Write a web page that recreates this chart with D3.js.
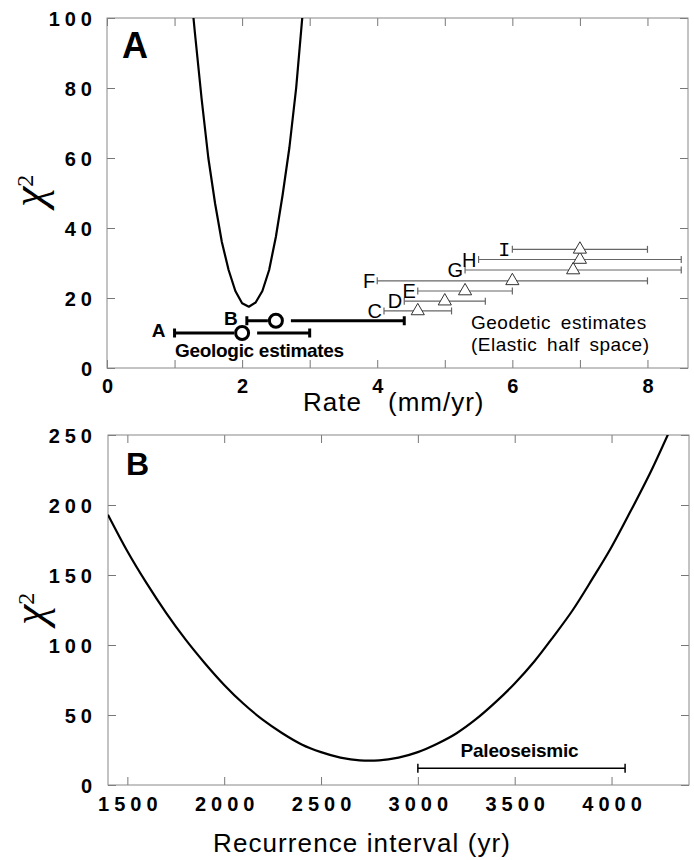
<!DOCTYPE html>
<html>
<head>
<meta charset="UTF-8" />
<script src="https://d3js.org/d3.v7.min.js"></script>
<style>
  body { margin: 0; background: #fff; }
  svg { font-family: "Liberation Sans", Arial, sans-serif; }
  .tick text { font-weight: bold; font-size: 20px; letter-spacing: 5px; fill: #000; }
  .tick line { stroke: #777; }
  .frame { fill: none; stroke: #888; stroke-width: 1; }
</style>
</head>
<body>
<script>
// ---- panel A : chi2 against slip rate ----
const rateGrid = [1.28, 1.3, 1.4, 1.5, 1.6, 1.7, 1.8, 1.9, 2.0, 2.1, 2.2, 2.3, 2.4, 2.5, 2.6, 2.7, 2.8, 2.89];
const rateChi  = [100, 96, 77, 60, 47, 36, 28, 22, 18.5, 17.5, 18.7, 22, 28, 37.5, 49.5, 63, 80, 100];

// geologic estimates (bold, circles)
const geolLabels = ["A", "B"];
const geolRate   = [2.0, 2.5];
const geolLo     = [1.0, 2.07];
const geolHi     = [3.0, 4.4];
const geolChi    = [10, 13.5];

// geodetic estimates (thin, triangles)
const geodLabels = ["C", "D", "E", "F", "G", "H", "I"];
const geodRate   = [4.6, 5.0, 5.3, 6.0, 6.9, 7.0, 7.0];
const geodLo     = [4.1, 4.4, 4.6, 4.0, 5.3, 5.5, 6.0];
const geodHi     = [5.1, 5.6, 6.0, 8.0, 8.5, 8.5, 8.0];
const geodChi    = [16.3, 19.1, 22.0, 24.9, 28.0, 31.0, 33.9];

const rateTicks = [0, 1, 2, 3, 4, 5, 6, 7, 8];
const rateTickLabels = ["0", "", "2", "", "4", "", "6", "", "8"];
const chiTicksA = [0, 20, 40, 60, 80, 100];

// ---- panel B : chi2 against recurrence interval ----
const recYears = [1400, 1500, 1600, 1700, 1800, 1900, 2000, 2100, 2200, 2300, 2400, 2500, 2600, 2700, 2750,
                  2800, 2900, 3000, 3100, 3200, 3300, 3400, 3500, 3600, 3700, 3800, 3900, 4000, 4100, 4200, 4300];
const recChi   = [193, 167, 144, 123, 104, 87, 71.5, 58, 46.5, 37, 29, 23.5, 19.6, 17.6, 17.4,
                  17.6, 19.6, 23.5, 29.5, 37, 47, 59, 72.5, 88, 106, 125, 147, 170, 196, 223, 253];
const paleoLo = 3000, paleoHi = 4070, paleoChi = 12;

const yearTicks = [1500, 2000, 2500, 3000, 3500, 4000];
const chiTicksB = [0, 50, 100, 150, 200, 250];

const W = 694, H = 860;
const svg = d3.select("body").append("svg").attr("width", W).attr("height", H);

const A = { left: 107, right: 688, top: 18, bottom: 368 };
const B = { left: 108, right: 689, top: 435, bottom: 785 };

const xA = d3.scaleLinear().domain([0, 8.6]).range([A.left, A.right]);
const yA = d3.scaleLinear().domain([0, 100]).range([A.bottom, A.top]);
const xB = d3.scaleLinear().domain([1400, 4400]).range([B.left, B.right]);
const yB = d3.scaleLinear().domain([0, 250]).range([B.bottom, B.top]);

function noDomain(g) { g.select(".domain").remove(); }

function drawAxes(P, x, y, xt, xfmt, yt, labelY, labelX) {
  svg.append("g").attr("transform", `translate(0,${P.bottom})`)
    .call(d3.axisBottom(x).tickValues(xt).tickFormat(xfmt).tickSize(-8).tickSizeOuter(0))
    .call(noDomain)
    .call(g => g.selectAll("text").attr("y", labelY).attr("dy", 0).attr("dx", 2.5));
  svg.append("g").attr("transform", `translate(0,${P.top})`)
    .call(d3.axisTop(x).tickValues(xt).tickFormat("").tickSize(-8).tickSizeOuter(0))
    .call(noDomain);
  svg.append("g").attr("transform", `translate(${P.left},0)`)
    .call(d3.axisLeft(y).tickValues(yt).tickSize(-8).tickSizeOuter(0))
    .call(noDomain)
    .call(g => g.selectAll("text").attr("x", labelX).attr("dy", "0.35em"));
  svg.append("g").attr("transform", `translate(${P.right},0)`)
    .call(d3.axisRight(y).tickValues(yt).tickFormat("").tickSize(-8).tickSizeOuter(0))
    .call(noDomain);
  svg.append("rect").attr("class", "frame")
    .attr("x", P.left).attr("y", P.top)
    .attr("width", P.right - P.left).attr("height", P.bottom - P.top);
}

drawAxes(A, xA, yA, rateTicks, (d, i) => rateTickLabels[i], chiTicksA, 25, -10);
drawAxes(B, xB, yB, yearTicks, d3.format("d"), chiTicksB, 26, -11);

function chiLabel(x, y) {
  const t = svg.append("text")
    .attr("transform", `translate(${x},${y}) rotate(-90)`)
    .style("font-family", "'Liberation Serif', serif")
    .style("font-size", "46px");
  t.append("tspan").style("font-style", "italic").text("χ");
  t.append("tspan").attr("dy", -11).style("font-size", "24px").text("2");
}
chiLabel(44, 207);
chiLabel(45, 625);

function panelLetter(txt, x, y, size) {
  svg.append("text").attr("x", x).attr("y", y)
    .style("font-weight", "bold").style("font-size", size + "px").text(txt);
}
panelLetter("A", 122, 58, 36);
panelLetter("B", 126, 475, 32);

// clip paths
const defs = svg.append("defs");
defs.append("clipPath").attr("id", "clipA").append("rect")
  .attr("x", A.left).attr("y", A.top).attr("width", A.right - A.left).attr("height", A.bottom - A.top);
defs.append("clipPath").attr("id", "clipB").append("rect")
  .attr("x", B.left).attr("y", B.top).attr("width", B.right - B.left).attr("height", B.bottom - B.top);

// ---- panel A marks ----
const curveA = rateGrid.map((r, i) => [r, rateChi[i]]);
svg.append("path").datum(curveA)
  .attr("clip-path", "url(#clipA)")
  .attr("fill", "none").attr("stroke", "#000").attr("stroke-width", 2.2)
  .attr("stroke-linejoin", "round")
  .attr("d", d3.line().x(d => xA(d[0])).y(d => yA(d[1])));

// geodetic bars
const geod = geodLabels.map((l, i) => ({ label: l, rate: geodRate[i], lo: geodLo[i], hi: geodHi[i], chi: geodChi[i] }));
const gd = svg.append("g").selectAll("g").data(geod).join("g");
gd.append("line")
  .attr("x1", d => xA(d.lo)).attr("x2", d => xA(d.hi))
  .attr("y1", d => yA(d.chi)).attr("y2", d => yA(d.chi))
  .attr("stroke", "#666").attr("stroke-width", 1.2);
[d => xA(d.lo), d => xA(d.hi)].forEach(fx => {
  gd.append("line")
    .attr("x1", fx).attr("x2", fx)
    .attr("y1", d => yA(d.chi) - 3.5).attr("y2", d => yA(d.chi) + 3.5)
    .attr("stroke", "#666").attr("stroke-width", 1.2);
});
gd.append("path")
  .attr("d", d3.symbol(d3.symbolTriangle, 75))
  .attr("transform", d => `translate(${xA(d.rate)},${yA(d.chi)})`)
  .attr("fill", "#fff").attr("stroke", "#333").attr("stroke-width", 1);
gd.append("text")
  .attr("x", d => xA(d.lo) - 2).attr("y", d => yA(d.chi) + 7)
  .attr("text-anchor", "end")
  .style("font-size", "20px")
  .style("font-family", d => d.label === "I" ? "'Liberation Mono', monospace" : null)
  .text(d => d.label);

// geologic bars
const geol = geolLabels.map((l, i) => ({ label: l, rate: geolRate[i], lo: geolLo[i], hi: geolHi[i], chi: geolChi[i] }));
const gl = svg.append("g").selectAll("g").data(geol).join("g");
gl.append("line")
  .attr("x1", d => xA(d.lo)).attr("x2", d => xA(d.rate) - 8)
  .attr("y1", d => yA(d.chi)).attr("y2", d => yA(d.chi))
  .attr("stroke", "#000").attr("stroke-width", 3);
gl.append("line")
  .attr("x1", d => xA(d.rate) + 15).attr("x2", d => xA(d.hi))
  .attr("y1", d => yA(d.chi)).attr("y2", d => yA(d.chi))
  .attr("stroke", "#000").attr("stroke-width", 3);
[d => xA(d.lo), d => xA(d.hi)].forEach(fx => {
  gl.append("line")
    .attr("x1", fx).attr("x2", fx)
    .attr("y1", d => yA(d.chi) - 4.5).attr("y2", d => yA(d.chi) + 4.5)
    .attr("stroke", "#000").attr("stroke-width", 3);
});
gl.append("circle")
  .attr("cx", d => xA(d.rate)).attr("cy", d => yA(d.chi)).attr("r", 6.5)
  .attr("fill", "#fff").attr("stroke", "#000").attr("stroke-width", 3);
gl.append("text")
  .attr("x", d => xA(d.lo) - 9).attr("y", d => yA(d.chi) + 4)
  .attr("text-anchor", "end")
  .style("font-size", "19px").style("font-weight", "bold")
  .text(d => d.label);

svg.append("text").attr("x", 175).attr("y", 357)
  .style("font-size", "19px").style("font-weight", "bold").style("letter-spacing", "-0.3px")
  .text("Geologic estimates");
svg.append("text").attr("x", 471).attr("y", 329)
  .style("font-size", "19px").style("letter-spacing", "0.5px").style("word-spacing", "4px")
  .text("Geodetic estimates");
svg.append("text").attr("x", 471).attr("y", 351)
  .style("font-size", "19px").style("letter-spacing", "0.5px").style("word-spacing", "4px")
  .text("(Elastic half space)");

// axis title A (the "4" tick label sits in the gap)
svg.append("text").attr("x", 303).attr("y", 411)
  .style("font-size", "26px").style("letter-spacing", "1px").text("Rate");
svg.append("text").attr("x", 388).attr("y", 411)
  .style("font-size", "26px").style("letter-spacing", "1px").text("(mm/yr)");

// ---- panel B marks ----
const curveB = recYears.map((r, i) => [r, recChi[i]]);
svg.append("path").datum(curveB)
  .attr("clip-path", "url(#clipB)")
  .attr("fill", "none").attr("stroke", "#000").attr("stroke-width", 2.2)
  .attr("d", d3.line().curve(d3.curveMonotoneX).x(d => xB(d[0])).y(d => yB(d[1])));

svg.append("line")
  .attr("x1", xB(paleoLo)).attr("x2", xB(paleoHi))
  .attr("y1", yB(paleoChi)).attr("y2", yB(paleoChi))
  .attr("stroke", "#000").attr("stroke-width", 1.5);
[paleoLo, paleoHi].forEach(v => {
  svg.append("line")
    .attr("x1", xB(v)).attr("x2", xB(v))
    .attr("y1", yB(paleoChi) - 4.5).attr("y2", yB(paleoChi) + 4.5)
    .attr("stroke", "#000").attr("stroke-width", 1.5);
});
svg.append("text").attr("x", xB((paleoLo + paleoHi) / 2) - 2).attr("y", 757)
  .attr("text-anchor", "middle")
  .style("font-size", "19px").style("font-weight", "bold").style("letter-spacing", "-0.2px")
  .text("Paleoseismic");

svg.append("text").attr("x", 213).attr("y", 852)
  .style("font-size", "26px").style("letter-spacing", "1.1px")
  .text("Recurrence interval (yr)");
</script>
</body>
</html>
